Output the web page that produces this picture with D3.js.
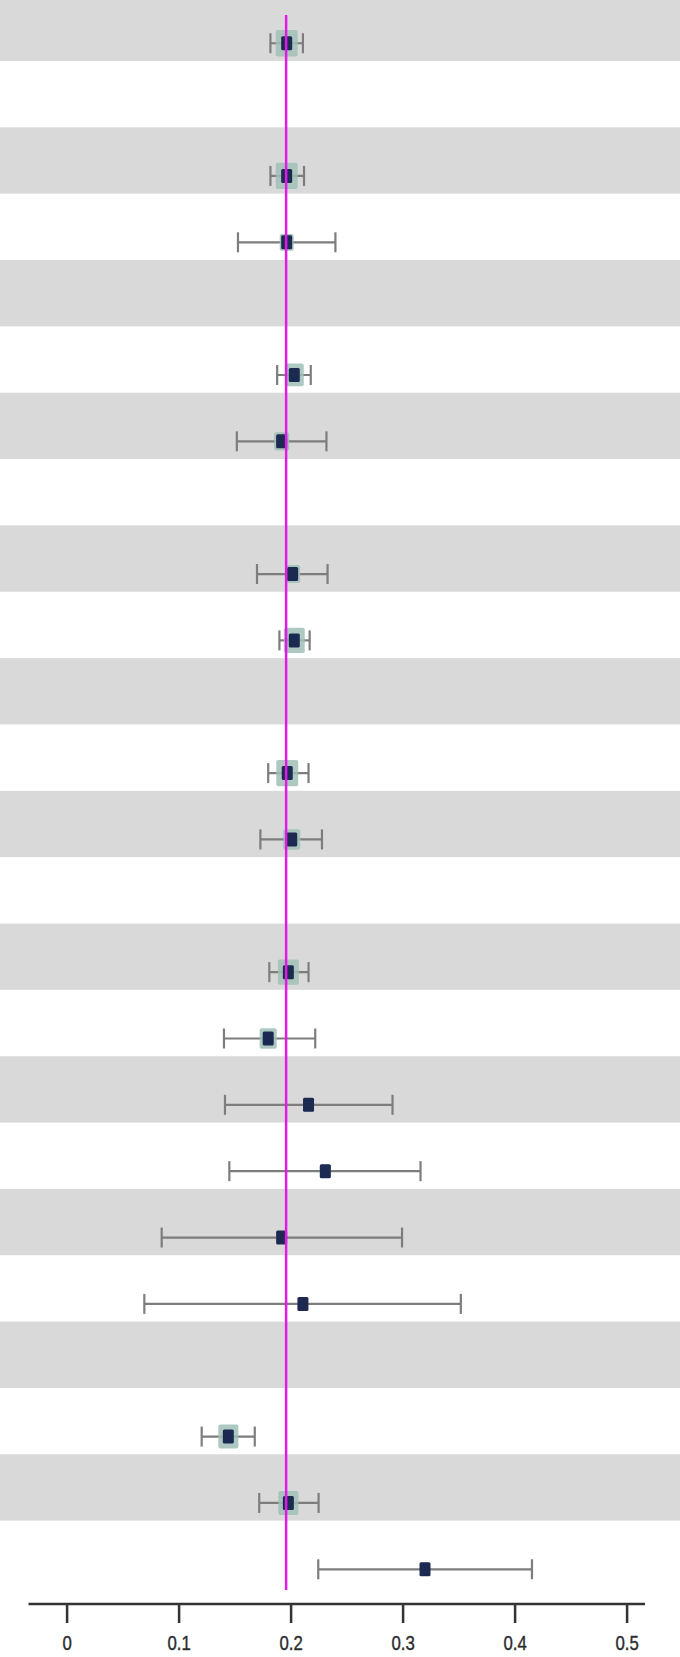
<!DOCTYPE html>
<html>
<head>
<meta charset="utf-8">
<script src="https://cdn.jsdelivr.net/npm/d3@7"></script>
<style>
  html, body { margin: 0; padding: 0; background: #fff; }
  svg { display: block; }
  .tick text { font-family: "Liberation Sans Narrow", "Arial Narrow", "Liberation Sans", sans-serif; }
</style>
</head>
<body>
<div id="chart"></div>
<script>
// one entry per row, null = heading row with no estimate
var estimates = [0.1965, null, 0.1965, 0.1965, null, 0.2033, 0.192, null, 0.2018, 0.2033, null, 0.197,
                 0.201, null, 0.198, 0.180, 0.216, 0.231, 0.192, 0.211, null, 0.1444, 0.198, 0.320];
var lower     = [0.182, null, 0.182, 0.153, null, 0.188, 0.152, null, 0.170, 0.190, null, 0.180,
                 0.173, null, 0.181, 0.1405, 0.1414, 0.1453, 0.0849, 0.0694, null, 0.1206, 0.172, 0.2247];
var upper     = [0.211, null, 0.212, 0.240, null, 0.218, 0.232, null, 0.233, 0.217, null, 0.216,
                 0.228, null, 0.216, 0.222, 0.291, 0.316, 0.2995, 0.352, null, 0.168, 0.225, 0.4155];
var weights   = [9.1, null, 9.1, 3.7, null, 6.8, 4.3, null, 4.3, 8.3, null, 9.1,
                 5.5, null, 8.3, 5.5, 2.3, 2.3, 1.9, 1.9, null, 7.6, 7.6, 1.9];
var overall = 0.196;
var xTicks = [0, 0.1, 0.2, 0.3, 0.4, 0.5];

var width = 680, height = 1657;
var rowH = 66.35, rowTop = -5.4;

var svg = d3.select("#chart").append("svg")
  .attr("width", width)
  .attr("height", height);

var x = d3.scaleLinear().domain([0, 0.5]).range([66.6, 626.6]);
var y = d3.scaleBand().domain(d3.range(estimates.length))
  .range([rowTop, rowTop + rowH * estimates.length]);
var halo = d3.scaleSqrt().domain([0, 10]).range([0, 23]);

var rows = estimates.map(function(d, i) {
  return { i: i, est: d, lo: lower[i], hi: upper[i], w: weights[i] };
});

// zebra bands
svg.append("g").selectAll("rect")
  .data(rows.filter(function(d) { return d.i % 2 == 0; }))
  .enter().append("rect")
    .attr("x", 0)
    .attr("y", function(d) { return y(d.i); })
    .attr("width", width)
    .attr("height", y.bandwidth())
    .attr("fill", "#d9d9d9");

var pts = rows.filter(function(d) { return d.est != null; });
function cy(d) { return y(d.i) + y.bandwidth() * 0.733; }

var g = svg.append("g");
// CI lines
g.selectAll(".ci")
  .data(pts)
  .enter().append("line")
    .attr("class", "ci")
    .attr("x1", function(d) { return x(d.lo); })
    .attr("x2", function(d) { return x(d.hi); })
    .attr("y1", cy).attr("y2", cy)
    .attr("stroke", "#7d7d7d").attr("stroke-width", 2.2);

// caps
["lo", "hi"].forEach(function(k) {
  g.selectAll(".cap-" + k)
    .data(pts)
    .enter().append("line")
      .attr("class", "cap-" + k)
      .attr("x1", function(d) { return x(d[k]); })
      .attr("x2", function(d) { return x(d[k]); })
      .attr("y1", function(d) { return cy(d) - 10; })
      .attr("y2", function(d) { return cy(d) + 10; })
      .attr("stroke", "#7d7d7d").attr("stroke-width", 2.2);
});

// weight squares
g.selectAll(".halo")
  .data(pts)
  .enter().append("rect")
    .attr("class", "halo")
    .attr("x", function(d) { return x(d.est) - halo(d.w) / 2; })
    .attr("y", function(d) { return cy(d) - halo(d.w) * 0.6; })
    .attr("width", function(d) { return halo(d.w); })
    .attr("height", function(d) { return halo(d.w) * 1.2; })
    .attr("rx", 2)
    .attr("fill", "#9fbfb7")
    .attr("opacity", 0.85);

// point estimates
g.selectAll(".pt")
  .data(pts)
  .enter().append("rect")
    .attr("class", "pt")
    .attr("x", function(d) { return x(d.est) - 5.5; })
    .attr("y", function(d) { return cy(d) - 7; })
    .attr("width", 11)
    .attr("height", 14)
    .attr("rx", 1.5)
    .attr("fill", "#1c2a52");

// overall line
svg.append("line")
  .attr("x1", x(overall)).attr("x2", x(overall))
  .attr("y1", 15).attr("y2", 1590)
  .attr("stroke", "#e21ae6").attr("stroke-width", 2.5);

// x axis
var axisY = 1604;
var ax = svg.append("g")
  .attr("transform", "translate(0," + axisY + ")")
  .call(d3.axisBottom(x).tickValues(xTicks).tickFormat(d3.format("~g")).tickSize(19).tickPadding(13));
ax.select(".domain").remove();
ax.selectAll(".tick line").attr("stroke", "#333").attr("stroke-width", 2.5);
ax.selectAll(".tick text")
  .attr("font-size", 20)
  .attr("fill", "#2a2a2a")
  .attr("stroke", "#333")
  .attr("stroke-width", 0.4)
  .attr("transform", "scale(0.84,1)");
ax.append("line")
  .attr("x1", x(-0.034)).attr("x2", x(0.5165))
  .attr("stroke", "#333").attr("stroke-width", 2.7);
</script>
</body>
</html>
